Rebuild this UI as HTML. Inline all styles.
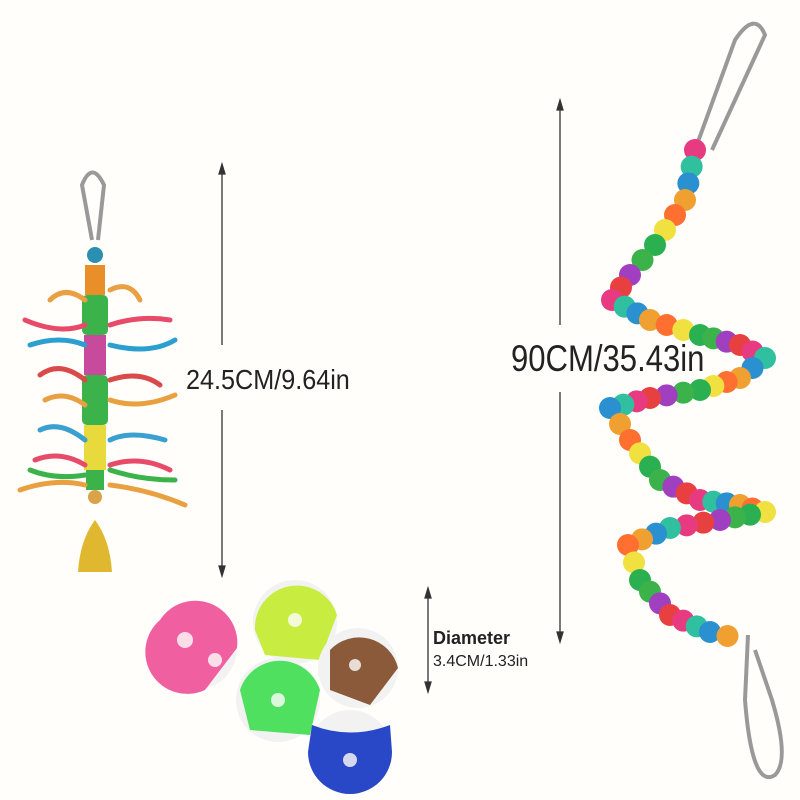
<!DOCTYPE html>
<html><head><meta charset="utf-8"><style>
html,body{margin:0;padding:0;background:#fffefb;}
svg{display:block}
text{font-family:"Liberation Sans",sans-serif;fill:#222}
</style></head><body>
<svg id="s" width="800" height="800" viewBox="0 0 800 800" xmlns="http://www.w3.org/2000/svg">
<rect width="800" height="800" fill="#fffefb"/>
<g stroke="#333" stroke-width="1.3" fill="#333">
<line x1="222" y1="168" x2="222" y2="345"/><line x1="222" y1="410" x2="222" y2="572"/>
<path d="M219,174 L222,164 L225,174Z M219,566 L222,576 L225,566Z"/>
<line x1="560" y1="104" x2="560" y2="325"/><line x1="560" y1="392" x2="560" y2="638"/>
<path d="M557,110 L560,100 L563,110Z M557,632 L560,642 L563,632Z"/>
<line x1="428" y1="592" x2="428" y2="688"/>
<path d="M425,598 L428,588 L431,598Z M425,682 L428,692 L431,682Z"/>
</g>
<text x="186" y="389" font-size="28" transform="translate(186,0) scale(0.9,1) translate(-186,0)">24.5CM/9.64in</text>
<text x="511" y="371" font-size="37" transform="translate(511,0) scale(0.84,1) translate(-511,0)">90CM/35.43in</text>
<text x="433" y="644" font-size="18" font-weight="bold">Diameter</text>
<text x="433" y="666" font-size="16" fill="#444">3.4CM/1.33in</text>

<g>
<path d="M92,240 L82,185 Q92,160 104,185 L98,240" fill="none" stroke="#999" stroke-width="4"/>
<circle cx="95" cy="255" r="8" fill="#2a8fb0"/>
<rect x="85" y="265" width="20" height="30" fill="#e98f2a"/>
<rect x="82" y="295" width="26" height="40" rx="5" fill="#3cb34a"/>
<rect x="84" y="335" width="22" height="40" fill="#c84a9c"/>
<rect x="82" y="375" width="26" height="50" rx="5" fill="#3cb34a"/>
<rect x="84" y="425" width="22" height="45" fill="#e8d93c"/>
<rect x="86" y="470" width="18" height="20" fill="#3cb34a"/>
<circle cx="95" cy="497" r="7" fill="#d9a34a"/>
<path d="M78,572 Q80,540 95,520 Q110,540 112,572Z" fill="#e0b830"/>
<g stroke-width="5" fill="none" stroke-linecap="round">
<path d="M25,320 Q60,335 85,325 M110,325 Q140,315 170,320" stroke="#e84a6a"/>
<path d="M30,345 Q60,335 85,345 M110,345 Q150,355 175,340" stroke="#2a9fd0"/>
<path d="M40,375 Q60,360 85,380 M110,380 Q140,370 160,385" stroke="#d94a4a"/>
<path d="M45,400 Q65,390 85,405 M110,400 Q140,410 175,395" stroke="#e8a040"/>
<path d="M40,430 Q60,420 85,440 M110,440 Q130,430 165,440" stroke="#3aa0d0"/>
<path d="M35,460 Q60,450 85,465 M110,465 Q140,455 170,470" stroke="#e84a6a"/>
<path d="M20,490 Q55,478 85,485 M110,485 Q150,490 185,505" stroke="#e8a040"/>
<path d="M110,290 Q130,280 140,300 M50,300 Q65,285 85,300" stroke="#e8a040"/>
<path d="M30,470 Q55,480 85,475 M110,470 Q140,480 175,480" stroke="#3cb34a"/>
</g>
</g>

<g>
<circle cx="195" cy="648" r="42" fill="#f2f2f2"/><path d="M160,620 A42,42 0 0 1 237,648 L205,690 A42,42 0 0 1 160,620Z" fill="#f060a0"/>
<circle cx="295" cy="622" r="42" fill="#f2f2f2"/><path d="M255,630 A42,42 0 0 1 337,615 L320,660 L265,655Z" fill="#c8ec40"/>
<circle cx="358" cy="668" r="40" fill="#f2f2f2"/><path d="M330,650 A40,40 0 0 1 398,668 L370,705 L330,690Z" fill="#8a5a3a"/>
<circle cx="278" cy="700" r="42" fill="#f2f2f2"/><path d="M240,690 A42,42 0 0 1 320,690 L310,735 L250,730Z" fill="#50e060"/>
<circle cx="350" cy="752" r="42" fill="#f2f2f2"/><path d="M308,752 A42,42 0 0 0 392,752 L390,725 Q350,740 312,725Z" fill="#2848c8"/>
</g>
<g fill="#fffefb" opacity="0.8">
<circle cx="185" cy="640" r="8"/><circle cx="215" cy="660" r="7"/><circle cx="295" cy="620" r="7"/><circle cx="355" cy="665" r="6"/><circle cx="278" cy="700" r="7"/><circle cx="350" cy="760" r="7"/>
</g>

<g fill="none" stroke="#999" stroke-width="4">
<path d="M695,150 L735,40 Q755,10 765,35 L712,150"/>
<path d="M748,635 L745,700 Q752,790 775,775 Q790,760 772,700 L755,650"/>
</g>
<g id="beads"></g>
</svg>
<script>
var pts=[[695,150],[685,200],[655,245],[630,275],[612,300],[650,320],[700,335],[740,345],[765,358],[740,378],[700,390],[650,398],[610,408],[630,440],[660,480],[700,500],[740,505],[765,512],[720,520],[670,528],[628,545],[640,580],[670,615],[710,632],[745,640]];
var cols=["#e83a80","#f0a030","#2ab050","#e84040","#2a90d0","#f0e040","#a040c0","#30c0a0","#ff7030","#3cb34a"];
var g=document.getElementById("beads"),out="",k=0;
for(var i=0;i<pts.length-1;i++){var a=pts[i],b=pts[i+1],d=Math.hypot(b[0]-a[0],b[1]-a[1]),n=Math.max(1,Math.round(d/16));
for(var j=0;j<n;j++){var t=j/n;out+='<circle cx="'+(a[0]+(b[0]-a[0])*t)+'" cy="'+(a[1]+(b[1]-a[1])*t)+'" r="11" fill="'+cols[(k*7)%10]+'"/>';k++;}}
g.innerHTML=out;
</script>
</body></html>
